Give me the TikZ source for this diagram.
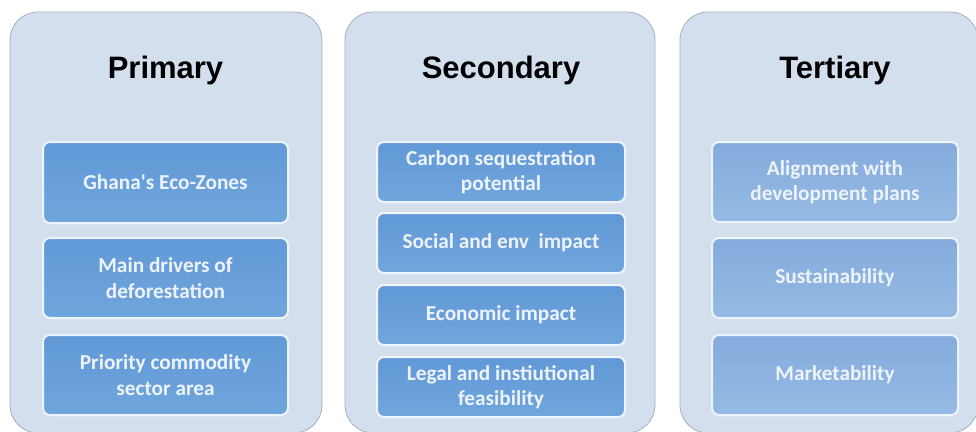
\documentclass[tikz,border=0pt]{standalone}
\usepackage{fontspec}
\setmainfont{Liberation Sans}
\newfontfamily\carlito{Carlito}
\definecolor{panelfill}{HTML}{D4DFEE}
\definecolor{paneledge}{HTML}{A4AFC0}
\definecolor{boxtop}{HTML}{6199D7}
\definecolor{boxbot}{HTML}{70A6DD}
\definecolor{boxtopl}{HTML}{84ABDC}
\definecolor{boxbotl}{HTML}{95BAE4}
\definecolor{boxedge}{HTML}{EEF4FC}
\definecolor{boxtext}{HTML}{EEF3FB}
\tikzset{
  panel/.style={draw=paneledge, line width=0.8pt, fill=panelfill, rounded corners=28pt, inner sep=0pt},
  title/.style={font=\bfseries\fontsize{31}{36}\selectfont, text=black, anchor=base, inner sep=0pt},
  inbox/.style={draw=boxedge, line width=2pt, rounded corners=7pt, top color=boxtop, bottom color=boxbot,
    text=boxtext, align=center, font=\carlito\bfseries\fontsize{21.3}{25.5}\selectfont, inner sep=0pt},
  inboxl/.style={inbox, top color=boxtopl, bottom color=boxbotl},
}
\begin{document}
\begin{tikzpicture}[x=1pt,y=-1pt]
\useasboundingbox (0,0) rectangle (976,431);
\clip (0,0) rectangle (976,431);
\fill[white] (0,0) rectangle (976,431);
% panels
\node[panel, minimum width=312pt, minimum height=421pt] (pan1) at (166,222.5) {};
\node[panel, minimum width=310pt, minimum height=421pt] (pan2) at (500,222.5) {};
\node[panel, minimum width=298pt, minimum height=421pt] (pan3) at (829,222.5) {};
% titles
\node[title] (t1) at (165.5,78) {Primary};
\node[title] (t2) at (501,78) {Secondary};
\node[title] (t3) at (835,78) {Tertiary};
% primary boxes
\node[inbox, minimum width=245pt, minimum height=81pt] (a1) at (165.5,182.5) {Ghana's Eco-Zones};
\node[inbox, minimum width=245pt, minimum height=80pt] (a2) at (165.5,278) {Main drivers of\\deforestation};
\node[inbox, minimum width=245pt, minimum height=80pt] (a3) at (165.5,375) {Priority commodity\\sector area};
% secondary boxes
\node[inbox, minimum width=248pt, minimum height=60pt] (b1) at (501,172) {Carbon sequestration\\potential};
\node[inbox, minimum width=248pt, minimum height=60pt] (b2) at (501,243) {Social and env\ \ impact};
\node[inbox, minimum width=248pt, minimum height=60pt] (b3) at (501,315) {Economic impact};
\node[inbox, minimum width=248pt, minimum height=60pt] (b4) at (501,387) {Legal and instiutional\\feasibility};
% tertiary boxes
\node[inboxl, minimum width=246pt, minimum height=80pt] (c1) at (835,182) {Alignment with\\development plans};
\node[inboxl, minimum width=246pt, minimum height=80pt] (c2) at (835,278) {Sustainability};
\node[inboxl, minimum width=246pt, minimum height=80pt] (c3) at (835,375) {Marketability};
\end{tikzpicture}
\end{document}
